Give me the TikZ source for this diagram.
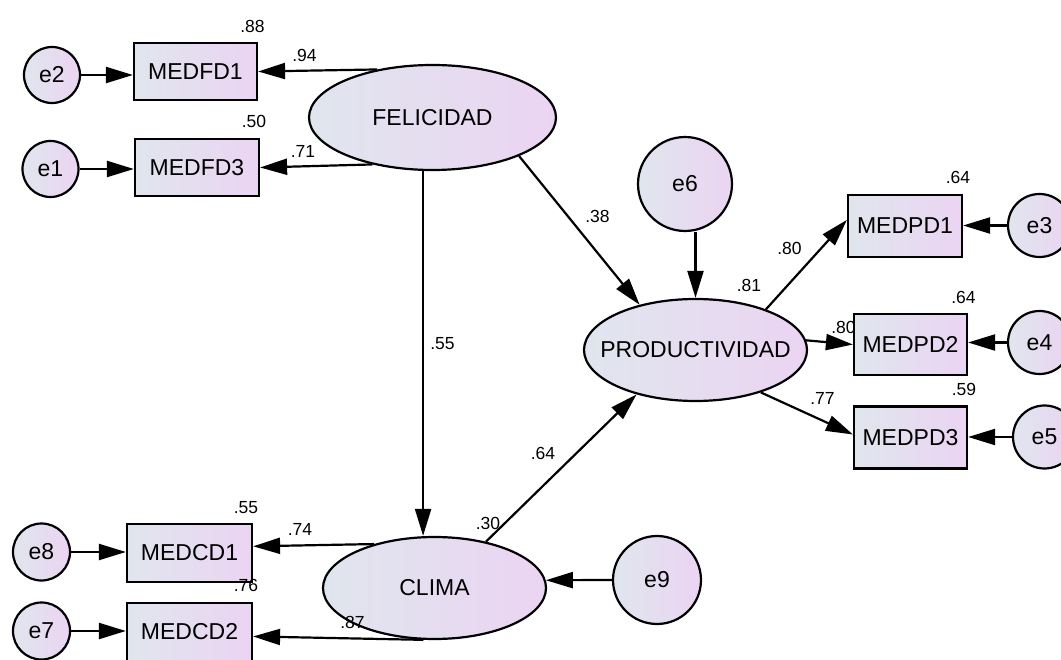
\documentclass[tikz,border=0pt]{standalone}
\usepackage{fontspec}
\setmainfont{Liberation Sans}
\usetikzlibrary{shapes.geometric,arrows.meta,calc}
\definecolor{shadeL}{RGB}{224,230,237}
\definecolor{shadeR}{RGB}{235,212,243}
\begin{document}
\begin{tikzpicture}[x=1pt,y=-1pt,
  fillgrad/.style={left color=shadeL,right color=shadeR},
  obs/.style={draw=black,line width=2.2pt,fillgrad,rectangle,inner sep=0pt,
    minimum width=124pt,minimum height=58pt,font=\fontsize{23}{27}\selectfont},
  lat/.style={draw=black,ellipse,line width=2.2pt,fillgrad,inner sep=0pt,
    minimum width=223pt,minimum height=102pt,font=\fontsize{23}{27}\selectfont},
  err/.style={draw=black,circle,line width=2.2pt,fillgrad,inner sep=0pt,
    minimum size=56pt,font=\fontsize{23}{27}\selectfont},
  arr/.style={line width=2.2pt,-{Triangle[length=27pt,width=16pt]}},
  val/.style={font=\fontsize{17.5}{20}\selectfont,inner sep=0pt}
]
\path[use as bounding box] (0,0) rectangle (1061,660);

% latent variables
\node[lat,minimum width=247pt,minimum height=105pt] (fel) at (432.5,117.5) {\makebox[0pt]{FELICIDAD}};
\node[lat] (prod) at (695.5,350) {\makebox[0pt]{PRODUCTIVIDAD}};
\node[lat] (cli) at (434.5,588) {\makebox[0pt]{CLIMA}};

% observed indicators
\node[obs,minimum width=123pt,minimum height=57pt] (m1) at (195.5,71.5) {MEDFD1};
\node[obs,minimum height=57pt] (m3) at (197,167.5) {MEDFD3};
\node[obs,minimum width=125pt] (c1) at (189.5,553) {MEDCD1};
\node[obs,minimum width=125pt] (c2) at (189.5,632) {MEDCD2};
\node[obs,minimum width=114pt,minimum height=62pt] (p1) at (905,226) {MEDPD1};
\node[obs,minimum width=113pt,minimum height=61pt] (p2) at (910.5,344.5) {MEDPD2};
\node[obs,minimum width=113pt,minimum height=62pt] (p3) at (910.5,437.5) {MEDPD3};

% error terms
\node[err] (e2) at (52,75) {e2};
\node[err] (e1) at (50.5,169) {e1};
\node[err,minimum size=57pt] (e8) at (41.5,552) {e8};
\node[err,minimum size=57pt] (e7) at (41.5,631) {e7};
\node[err,minimum size=94pt] (e6) at (685,184) {e6};
\node[err,minimum size=88pt] (e9) at (657,580) {e9};
\node[err,minimum size=63pt] (e3) at (1039.5,225.5) {e3};
\node[err,minimum size=63pt] (e4) at (1039.5,342.5) {e4};
\node[err,minimum size=63pt] (e5) at (1044.5,437) {e5};

% error paths
\draw[arr] (e2.east) -- (e2.east -| m1.west);
\draw[arr] (e1.east) -- (e1.east -| m3.west);
\draw[arr] (e8.east) -- (e8.east -| c1.west);
\draw[arr] (e7.east) -- (e7.east -| c2.west);
\draw[arr] (e3.west) -- (e3.west -| p1.east);
\draw[arr] (e4.west) -- (e4.west -| p2.east);
\draw[arr] (e5.west) -- (e5.west -| p3.east);
\draw[arr] (e6.south -| prod.north) -- (prod.north);
\draw[arr] (e9.west) -- (cli.4);

% loadings
\draw[arr] (fel.139) -- (m1.east);
\draw[arr] (fel.218) -- (m3.east);
\draw[arr] (cli.144) -- (c1.6);
\draw[arr] (cli.258) -- (c2.356);
\draw[arr] (prod.30) -- (p1.174);
\draw[arr] (prod.5) -- (p2.west);
\draw[arr] (prod.327) -- (p3.177);

% structural paths
\draw[arr] (fel.260) -- (fel.260 |- cli.north);
\draw[arr] (fel.336) -- (prod.141);
\draw[arr] (cli.42) -- (prod.217);

% estimates
\node[val] (v88) at (252.5,26) {.88};
\node[val] (v94) at (304.5,55) {.94};
\node[val] (v50) at (254,121) {.50};
\node[val] (v71) at (303,151) {.71};
\node[val] (v38) at (597.5,216) {.38};
\node[val] (v55a) at (442.5,344) {.55};
\node[val] (v81) at (749,285) {.81};
\node[val] (v64a) at (958,177) {.64};
\node[val] (v80a) at (789.5,248) {.80};
\node[val] (v64b) at (963.5,297) {.64};
\node[val] (v80b) at (843.5,327) {.80};
\node[val] (v59) at (964,389) {.59};
\node[val] (v77) at (822.5,398) {.77};
\node[val] (v64c) at (543,453.5) {.64};
\node[val] (v30) at (488,523) {.30};
\node[val] (v55b) at (246,508) {.55};
\node[val] (v74) at (300,529.5) {.74};
\node[val] (v76) at (246,585) {.76};
\node[val] (v87) at (352.5,622) {.87};
\end{tikzpicture}
\end{document}
